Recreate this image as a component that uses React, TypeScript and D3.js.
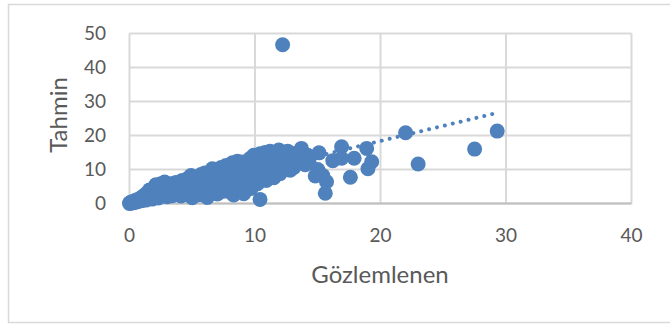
import React from "react";
import * as d3 from "d3";

const obsX: number[] = [
  0, 0.05, 0.1, 0.2, 0.3, 0.4, 0.5, 0.6, 0.7, 0.8, 0.9, 1.0, 1.0,
  1.1, 1.2, 1.3, 1.4, 1.5, 1.6, 1.7, 1.8, 1.9, 2.0, 2.0,
  2.1, 2.2, 2.3, 2.4, 2.5, 2.6, 2.7, 2.8, 2.9, 3.0,
  3.1, 3.3, 3.4, 3.5, 3.7, 3.8, 3.9, 4.0,
  4.1, 4.2, 4.3, 4.5, 4.6, 4.7, 4.8, 4.9, 5.0, 5.0, 5.0,
  5.2, 5.3, 5.4, 5.6, 5.7, 5.8, 5.9, 6.0, 6.0,
  6.2, 6.3, 6.4, 6.5, 6.6, 6.7, 6.8, 6.9, 7.0, 7.0,
  7.2, 7.3, 7.4, 7.5, 7.6, 7.7, 7.8, 7.9, 8.0, 8.0,
  8.1, 8.2, 8.3, 8.3, 8.4, 8.5, 8.6, 8.7, 8.8, 8.9, 9.0, 9.0,
  9.1, 9.2, 9.3, 9.4, 9.5, 9.6, 9.7, 9.8, 9.9, 10.0, 10.0, 10.0,
  10.1, 10.2, 10.3, 10.4, 10.4, 10.5, 10.6, 10.7, 10.8, 10.9, 11.0, 11.0,
  11.1, 11.2, 11.3, 11.4, 11.5, 11.6, 11.7, 11.8, 11.9, 12.0, 12.0,
  12.2, 12.2, 12.3, 12.5, 12.6, 12.8, 13.0, 13.1, 13.3, 13.4, 13.7, 13.8, 14.0, 14.2, 14.3,
  14.8, 15.0, 15.1, 15.4, 15.7, 15.6, 16.2,
  16.9, 16.9, 17.6, 17.9, 18.9, 19.3, 19.0,
  22.0, 23.0, 27.5, 29.3,
];

const predY: number[] = [
  0, 0.3, 0.1, 0.5, 0.2, 0.8, 0.4, 1.1, 0.6, 1.4, 0.8, 1.9, 0.9,
  1.2, 2.5, 1.0, 3.1, 1.6, 4.0, 2.3, 1.3, 3.4, 4.6, 2.0,
  5.5, 3.0, 1.6, 4.2, 5.8, 2.4, 3.6, 6.3, 4.8, 2.0,
  3.2, 5.8, 2.3, 4.4, 6.2, 2.8, 3.9, 5.3,
  2.2, 6.8, 4.5, 3.0, 7.3, 5.6, 2.4, 8.2, 1.7, 4.0, 6.5,
  3.0, 7.6, 5.2, 2.6, 8.5, 6.4, 4.0, 9.0, 2.8,
  1.8, 5.2, 7.4, 3.5, 10.2, 8.6, 4.4, 6.3, 9.6, 2.8,
  5.3, 10.6, 7.8, 3.6, 9.2, 11.2, 6.2, 4.4, 8.4, 10.4,
  3.2, 12.0, 2.5, 6.6, 9.8, 4.8, 12.4, 8.0, 10.8, 6.0, 3.6, 12.2,
  2.9, 9.0, 5.0, 11.2, 7.2, 13.2, 4.4, 9.9, 14.2, 6.6, 11.8, 8.4,
  13.5, 5.8, 10.4, 1.2, 14.6, 7.8, 12.3, 9.0, 15.0, 6.8, 11.0, 13.4,
  8.6, 15.4, 10.0, 12.6, 7.6, 14.8, 9.6, 11.8, 15.7, 13.4, 8.8,
  46.7, 10.8, 14.6, 12.0, 15.4, 9.8, 13.2, 10.6, 14.8, 12.0, 16.2, 13.0, 11.4, 14.2, 12.4,
  8.1, 10.0, 14.9, 8.2, 6.4, 3.0, 12.6,
  16.7, 13.3, 7.7, 13.3, 16.2, 12.3, 10.2,
  20.8, 11.6, 16.0, 21.3,
];

const trendX: number[] = [0, 28.9];
const trendY: number[] = [0.6, 26.3];

const xTicks: number[] = [0, 10, 20, 30, 40];
const yTicks: number[] = [0, 10, 20, 30, 40, 50];

const xTitle = "Gözlemlenen";
const yTitle = "Tahmin";

const W = 670;
const H = 325;
const COLOR = "#4F81BD";
const TEXT = "#595959";
const FONT = "Lato, 'Open Sans', sans-serif";

export default function App() {
  const x = d3.scaleLinear().domain([0, 40]).range([129.5, 631.5]);
  const y = d3.scaleLinear().domain([0, 50]).range([203.5, 33.5]);
  const pts = obsX.map((v, i) => [v, predY[i]] as [number, number]);
  const trend = d3
    .line<number>()
    .x((d) => x(trendX[d]))
    .y((d) => y(trendY[d]))([0, 1]);

  return (
    <svg
      width={W}
      height={H}
      style={{ position: "absolute", left: 0, top: 0, background: "#fff" }}
    >
      <rect x={8.5} y={4.5} width={700} height={318} fill="#fff" stroke="#D9D9D9" strokeWidth={1.5} />
      {yTicks.map((t) => (
        <line key={"gy" + t} x1={x(0)} x2={x(40)} y1={y(t)} y2={y(t)} stroke="#D9D9D9" strokeWidth={2} />
      ))}
      {xTicks.map((t) => (
        <line key={"gx" + t} x1={x(t)} x2={x(t)} y1={y(0)} y2={y(50)} stroke="#D9D9D9" strokeWidth={2} />
      ))}
      <line x1={x(0)} x2={x(40)} y1={y(0)} y2={y(0)} stroke="#BFBFBF" strokeWidth={2} />
      {yTicks.map((t) => (
        <text key={"ty" + t} x={106} y={y(t)} dy="0.36em" textAnchor="end" fill={TEXT} fontFamily={FONT} fontSize={19}>
          {t}
        </text>
      ))}
      {xTicks.map((t) => (
        <text key={"tx" + t} x={x(t)} y={235} dy="0.36em" textAnchor="middle" fill={TEXT} fontFamily={FONT} fontSize={19}>
          {t}
        </text>
      ))}
      <text x={380} y={283} textAnchor="middle" fill={TEXT} fontFamily={FONT} fontSize={24}>
        {xTitle}
      </text>
      <text
        transform={`translate(67,115) rotate(-90)`}
        textAnchor="middle"
        fill={TEXT}
        fontFamily={FONT}
        fontSize={24}
      >
        {yTitle}
      </text>
      <g>
        {pts.map((p, i) => (
          <circle key={i} cx={x(p[0])} cy={y(p[1])} r={7.5} fill={COLOR} />
        ))}
      </g>
      <path
        d={trend || ""}
        fill="none"
        stroke={COLOR}
        strokeWidth={4}
        strokeLinecap="round"
        strokeDasharray="0.01 8.1"
      />
    </svg>
  );
}
